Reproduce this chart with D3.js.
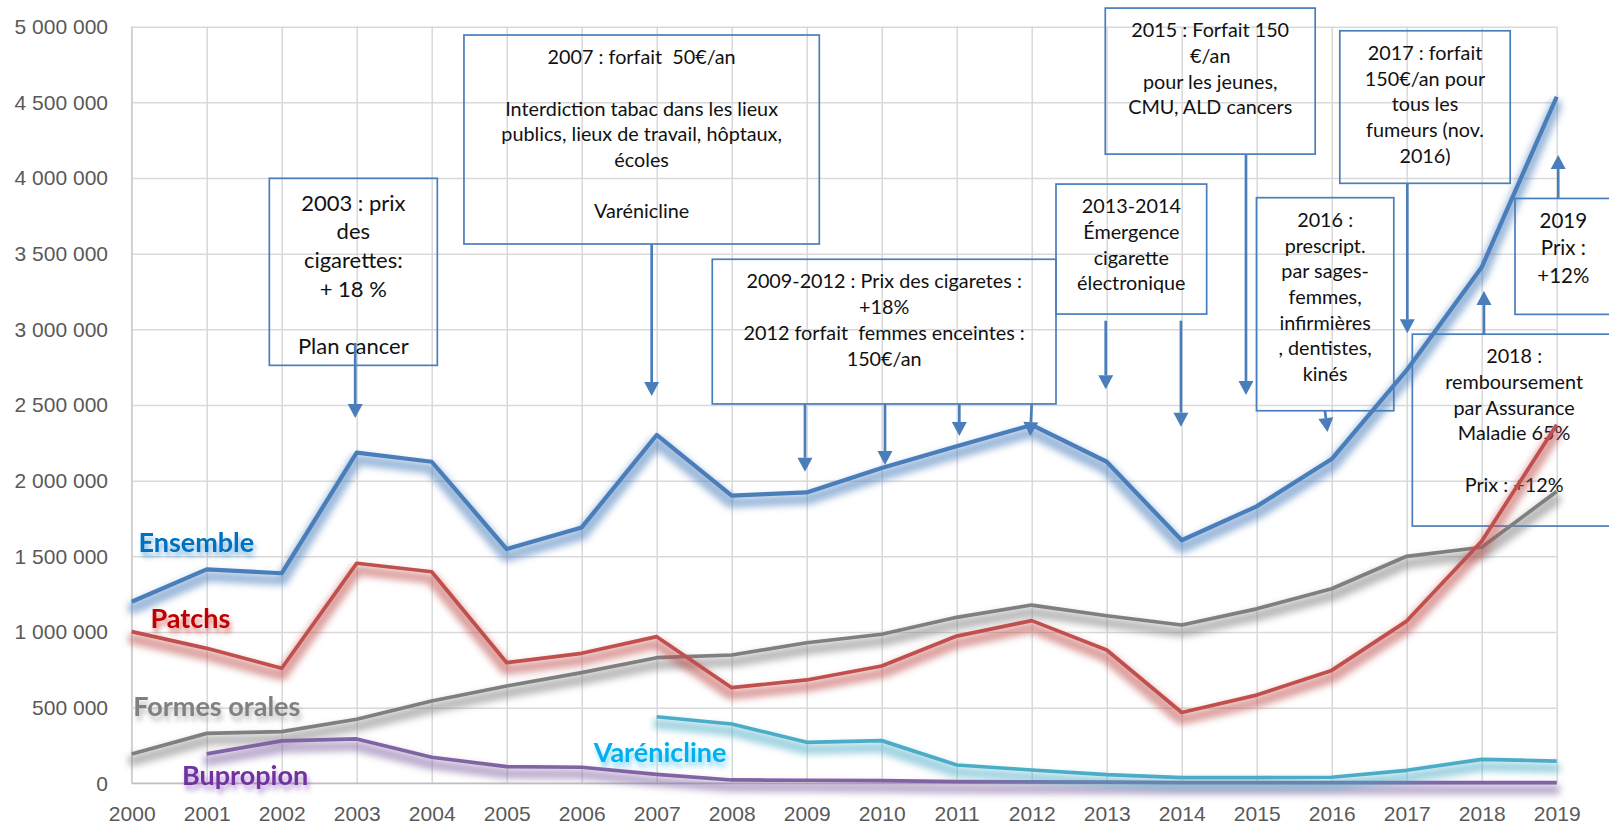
<!DOCTYPE html>
<html>
<head>
<meta charset="utf-8">
<script src="https://cdn.jsdelivr.net/npm/d3@7"></script>
<style>
  body { margin: 0; background: #fff; }
  svg { font-family: Lato, "Open Sans", sans-serif; }
  .note text { white-space: pre; }
</style>
</head>
<body>
<script>

const width = 1609;
const height = 826;

// data
const years = [2000, 2001, 2002, 2003, 2004, 2005, 2006, 2007, 2008, 2009,
               2010, 2011, 2012, 2013, 2014, 2015, 2016, 2017, 2018, 2019];

const ensemble = [1200000, 1414000, 1388000, 2185000, 2125000, 1548000, 1691000, 2302000, 1901000, 1922000,
                  2084000, 2227000, 2368000, 2125000, 1606000, 1830000, 2143000, 2730000, 3410000, 4537000];

const patchs = [1002000, 892000, 760000, 1454000, 1398000, 797000, 859000, 969000, 632000, 683000,
                775000, 973000, 1075000, 881000, 468000, 583000, 746000, 1072000, 1600000, 2370000];

const formesOrales = [194000, 330000, 341000, 423000, 544000, 643000, 731000, 830000, 848000, 929000,
                      985000, 1097000, 1178000, 1107000, 1046000, 1153000, 1286000, 1500000, 1560000, 1928000];

const varenicline = [null, null, null, null, null, null, null, 440000, 392000, 271000,
                     282000, 121000, 88000, 57000, 38000, 38000, 40000, 86000, 158000, 147000];

const bupropion = [null, 194000, 280000, 293000, 172000, 110000, 106000, 59000, 22000, 20000,
                   18000, 11000, 10000, 8000, 5000, 5000, 4000, 4000, 4000, 4000];

const yTicks = [0, 500000, 1000000, 1500000, 2000000, 2500000, 3000000, 3500000, 4000000, 4500000, 5000000];

const series = [
  {name: "Formes orales", values: formesOrales, color: "#7f7f7f", label: "#808080"},
  {name: "Bupropion", values: bupropion, color: "#8064a2", label: "#7030a0"},
  {name: "Varénicline", values: varenicline, color: "#4bacc6", label: "#00b0f0"},
  {name: "Patchs", values: patchs, color: "#c0504d", label: "#c00000"},
  {name: "Ensemble", values: ensemble, color: "#4a7ebb", label: "#0070c0"}
];

// series labels: anchor year / value of the left end of the text baseline
const labelYear  = [2000.02, 2000.67, 2006.16, 2000.25, 2000.09];
const labelValue = [444000, -12000, 142000, 1028000, 1528000];

// annotation boxes (years / values)
const noteText = [
  ["2003 : prix", "des", "cigarettes:", "+ 18 %", "", "Plan cancer"],
  ["2007 : forfait  50€/an", "", "Interdiction tabac dans les lieux", "publics, lieux de travail, hôptaux,", "écoles", "", "Varénicline"],
  ["2009-2012 : Prix des cigaretes :", "+18%", "2012 forfait  femmes enceintes :", "150€/an"],
  ["2013-2014", "Émergence", "cigarette", "électronique"],
  ["2015 : Forfait 150", "€/an", "pour les jeunes,", "CMU, ALD cancers"],
  ["2017 : forfait", "150€/an pour", "tous les", "fumeurs (nov.", "2016)"],
  ["2016 :", "prescript.", "par sages-", "femmes,", "infirmières", ", dentistes,", "kinés"],
  ["2019", "Prix :", "+12%"],
  ["2018 :", "remboursement", "par Assurance", "Maladie 65%", "", "Prix : +12%"]
];
const noteX0 = [2001.835, 2004.43, 2007.741, 2012.324, 2012.981, 2016.108, 2014.997, 2018.444, 2017.075];
const noteX1 = [2004.075, 2009.168, 2012.324, 2014.333, 2015.78, 2018.38, 2016.828, 2019.733, 2019.79];
const noteTop = [3998000, 4945000, 3463000, 3960000, 5123000, 4973000, 3870000, 3865000, 2968000];
const noteBottom = [2762000, 3564000, 2507000, 3101000, 4158000, 3965000, 2462000, 3099000, 1700000];

// arrows: from (year, value) to (year, value), head at the end
const arrowFrom = [[2002.98, 2910000], [2006.933, 3564000], [2008.977, 2507000], [2010.044, 2507000],
                   [2011.035, 2507000], [2012.0, 2507000], [2012.987, 3057000], [2013.99, 3057000],
                   [2014.857, 4158000], [2015.91, 2462000], [2017.008, 3965000], [2018.03, 2968000],
                   [2019.02, 3865000]];
const arrowTo = [[2002.98, 2414000], [2006.933, 2559000], [2008.977, 2059000], [2010.044, 2103000],
                 [2011.035, 2295000], [2011.98, 2295000], [2012.987, 2604000], [2013.99, 2357000],
                 [2014.857, 2566000], [2015.944, 2321000], [2017.008, 2974000], [2018.03, 3253000],
                 [2019.02, 4152000]];

const x = d3.scaleLinear().domain([2000, 2019]).range([131.7, 1556.7]);
const y = d3.scaleLinear().domain([0, 5000000]).range([783.3, 26.7]);

const svg = d3.select("body")
  .append("svg")
  .attr("width", width)
  .attr("height", height);

const defs = svg.append("defs");

var lineGlow = defs.append("filter")
  .attr("id", "lineGlow")
  .attr("filterUnits", "userSpaceOnUse")
  .attr("x", 0).attr("y", 0).attr("width", width).attr("height", height);
lineGlow.append("feMorphology").attr("in", "SourceGraphic").attr("operator", "dilate").attr("radius", 2.5).attr("result", "d");
lineGlow.append("feGaussianBlur").attr("in", "d").attr("stdDeviation", 3.5).attr("result", "b");
lineGlow.append("feOffset").attr("in", "b").attr("dx", 0).attr("dy", 7).attr("result", "o");
lineGlow.append("feComponentTransfer").attr("in", "o").attr("result", "f")
  .append("feFuncA").attr("type", "linear").attr("slope", 0.55);
var m1 = lineGlow.append("feMerge");
m1.append("feMergeNode").attr("in", "f");
m1.append("feMergeNode").attr("in", "SourceGraphic");

var textGlow = defs.append("filter")
  .attr("id", "textGlow")
  .attr("x", "-20%").attr("y", "-40%").attr("width", "140%").attr("height", "190%");
textGlow.append("feGaussianBlur").attr("in", "SourceGraphic").attr("stdDeviation", 2.5).attr("result", "b");
textGlow.append("feOffset").attr("in", "b").attr("dx", 2).attr("dy", 5).attr("result", "o");
textGlow.append("feComponentTransfer").attr("in", "o").attr("result", "f")
  .append("feFuncA").attr("type", "linear").attr("slope", 0.5);
var m2 = textGlow.append("feMerge");
m2.append("feMergeNode").attr("in", "f");
m2.append("feMergeNode").attr("in", "SourceGraphic");

// grid + axes
const fmt = v => d3.format(",")(v).replace(/,/g, " ");

const yAxis = svg.append("g")
  .attr("transform", "translate(" + x(2000) + ",0)")
  .call(d3.axisLeft(y).tickValues(yTicks).tickSize(-(x(2019) - x(2000))).tickFormat(fmt));
yAxis.select(".domain").remove();
yAxis.selectAll("line").attr("stroke", "#d9d9d9").attr("stroke-width", 1.5);
yAxis.selectAll("text")
  .attr("x", -23.7).attr("dy", "0.33em")
  .attr("fill", "#595959").style("font-size", "21px");

const xAxis = svg.append("g")
  .attr("transform", "translate(0," + y(0) + ")")
  .call(d3.axisBottom(x).tickValues(years).tickSize(-(y(0) - y(5000000))).tickFormat(d3.format("d")));
xAxis.select(".domain").remove();
xAxis.selectAll("line").attr("stroke", "#d9d9d9").attr("stroke-width", 1.5);
xAxis.selectAll("text")
  .attr("y", 37.5).attr("dy", null)
  .attr("fill", "#595959").style("font-size", "21px");

svg.append("line")
  .attr("x1", x(2000)).attr("x2", x(2019))
  .attr("y1", y(0)).attr("y2", y(0))
  .attr("stroke", "#bfbfbf").attr("stroke-width", 1.5);
svg.append("line")
  .attr("x1", x(2000)).attr("x2", x(2000))
  .attr("y1", y(0)).attr("y2", y(5000000))
  .attr("stroke", "#cfcfcf").attr("stroke-width", 1.5);

// annotation boxes
const notes = svg.append("g").attr("class", "note");
noteText.forEach(function(lines, i) {
  var x0 = x(noteX0[i]), x1 = x(noteX1[i]);
  var top = y(noteTop[i]), bottom = y(noteBottom[i]);
  notes.append("rect")
    .attr("x", x0).attr("y", top)
    .attr("width", x1 - x0).attr("height", bottom - top)
    .attr("fill", "none")
    .attr("stroke", "#4a7ebb")
    .attr("stroke-width", 1.7);
  var big = i === 0;
  var lh = big ? 28.6 : (i === 7 ? 27.8 : 25.7);
  var first = big ? 32.4 : 29.2;
  var t = notes.append("text")
    .attr("text-anchor", "middle")
    .attr("fill", "#111")
    .style("font-size", big ? "22px" : (i === 7 ? "20.5px" : "19.8px"));
  lines.forEach(function(l, k) {
    t.append("tspan")
      .attr("x", (x0 + x1) / 2)
      .attr("y", top + first + k * lh)
      .text(l);
  });
});

// arrows
arrowFrom.forEach(function(f, i) {
  var sx = x(f[0]), sy = y(f[1]);
  var ex = x(arrowTo[i][0]), ey = y(arrowTo[i][1]);
  var len = Math.hypot(ex - sx, ey - sy);
  var ux = (ex - sx) / len, uy = (ey - sy) / len;
  var head = 14, half = 7.5;
  var bx = ex - ux * head, by = ey - uy * head;
  notes.append("line")
    .attr("x1", sx).attr("y1", sy)
    .attr("x2", bx).attr("y2", by)
    .attr("stroke", "#4a7ebb").attr("stroke-width", 2.7);
  notes.append("path")
    .attr("d", "M" + ex + "," + ey +
               "L" + (bx - uy * half) + "," + (by + ux * half) +
               "L" + (bx + uy * half) + "," + (by - ux * half) + "Z")
    .attr("fill", "#4a7ebb");
});

// lines
const line = d3.line()
  .defined(d => d != null)
  .x((d, i) => x(years[i]))
  .y(d => y(d));

svg.append("g")
  .selectAll("path")
  .data(series)
  .enter().append("path")
  .attr("d", d => line(d.values))
  .attr("fill", "none")
  .attr("stroke", d => d.color)
  .attr("stroke-width", d => d.name === "Ensemble" ? 4.2 : 3.7)
  .attr("stroke-linejoin", "round")
  .attr("filter", "url(#lineGlow)");

// series labels
svg.append("g")
  .selectAll("text")
  .data(series)
  .enter().append("text")
  .attr("x", (d, i) => x(labelYear[i]))
  .attr("y", (d, i) => y(labelValue[i]))
  .attr("fill", d => d.label)
  .attr("filter", "url(#textGlow)")
  .style("font-size", "27px")
  .style("font-weight", "bold")
  .text(d => d.name);

</script>
</body>
</html>
